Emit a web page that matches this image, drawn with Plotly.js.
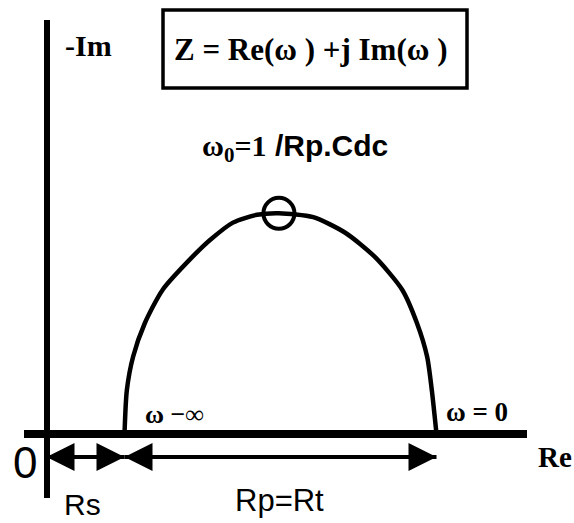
<!DOCTYPE html>
<html>
<head>
<meta charset="utf-8">
<script src="https://cdn.plot.ly/plotly-3.0.1.min.js"></script>
<style>html,body{margin:0;padding:0;background:#fff;}</style>
</head>
<body>
<div id="chart" style="width:574px;height:523px;"></div>
<script>
// ---- data (Re and -Im in units where Rs = 1) ----
const curveRe = [1.00, 1.03, 1.11, 1.26, 1.49, 1.87, 2.10, 2.39, 2.70, 2.98, 3.42, 3.83, 4.21, 4.56, 4.75, 4.88, 4.94, 5.00];
const curveIm = [0.00, 0.56, 0.99, 1.42, 1.85, 2.27, 2.49, 2.71, 2.81, 2.83, 2.78, 2.58, 2.27, 1.85, 1.42, 0.99, 0.56, 0.00];
const omega0Re = [2.98];
const omega0Im = [2.83];
const Rs = 1;
const Rp = 4;
const axisLabels = ['-Im', 'Re', '0'];
const resistanceLabels = ['Rs', 'Rp=Rt'];
const freqLabels = ['ω −∞', 'ω = 0'];
const formulaText = 'Z = Re(ω ) +j Im(ω )';

// ---- layout constants ----
const dimY = -0.295;       // height of the dimension arrows
const W = 574, H = 523;
const mL = 24, mR = 47, mT = 20, mB = 25;
const pw = W - mL - mR, ph = H - mT - mB;
const px = v => (v - mL) / pw;          // pixel -> paper x
const py = v => (H - mB - v) / ph;      // pixel -> paper y

const serif = 'Liberation Serif, Times New Roman, serif';
const sans = 'Liberation Sans, Arial, sans-serif';

const traces = [
  { // impedance arc
    x: curveRe, y: curveIm, mode: 'lines', type: 'scatter',
    line: {color: '#000', width: 4.5, shape: 'spline', smoothing: 0.7},
    hoverinfo: 'skip', showlegend: false
  },
  { // omega0 point
    x: omega0Re, y: omega0Im, mode: 'markers', type: 'scatter',
    marker: {symbol: 'circle-open', size: 31, color: '#000', line: {width: 4, color: '#000'}},
    hoverinfo: 'skip', showlegend: false
  },
  { // Rs dimension line
    x: [0, Rs], y: [dimY, dimY], mode: 'lines+markers', type: 'scatter',
    line: {color: '#000', width: 4},
    marker: {symbol: ['arrow-left', 'arrow-right'], size: 28, color: '#000', line: {width: 0}},
    hoverinfo: 'skip', showlegend: false
  },
  { // Rp dimension line
    x: [Rs, Rs + Rp], y: [dimY, dimY], mode: 'lines+markers', type: 'scatter',
    line: {color: '#000', width: 4},
    marker: {symbol: ['arrow-left', 'arrow-right'], size: 28, color: '#000', line: {width: 0}},
    hoverinfo: 'skip', showlegend: false
  }
];

const ann = (text, x, y, font, extra) => Object.assign({
  text: text, xref: 'paper', yref: 'paper', x: x, y: y,
  xanchor: 'center', yanchor: 'middle', showarrow: false, font: font
}, extra || {});

const layout = {
  width: W, height: H,
  margin: {l: mL, r: mR, t: mT, b: mB, pad: 0},
  paper_bgcolor: '#fff', plot_bgcolor: '#fff',
  showlegend: false,
  xaxis: {
    range: [(mL - 46.5) / 78, (W - mR - 46.5) / 78],
    showgrid: false, showticklabels: false, ticks: '', showline: false,
    zeroline: true, zerolinecolor: '#000', zerolinewidth: 6, fixedrange: true
  },
  yaxis: {
    range: [(434 - (H - mB)) / 78, (434 - mT) / 78],
    showgrid: false, showticklabels: false, ticks: '', showline: false,
    zeroline: true, zerolinecolor: '#000', zerolinewidth: 8, fixedrange: true
  },
  shapes: [
    {type: 'rect', xref: 'paper', yref: 'paper',
     x0: px(163), x1: px(467), y0: py(88), y1: py(10),
     line: {color: '#000', width: 3.5}, fillcolor: 'rgba(0,0,0,0)'}
  ],
  annotations: [
    ann(axisLabels[0], px(88), py(46), {family: serif, size: 30, color: '#000', weight: 'bold'}),
    ann(formulaText, px(310), py(49), {family: serif, size: 31, color: '#000', weight: 'bold'}),
    ann('<span style="font-family:Liberation Serif">ω<sub>0</sub>=1</span> /Rp.Cdc', px(295), py(148),
        {family: sans, size: 30, color: '#000', weight: 'bold'}),
    ann(freqLabels[0], px(174), py(414), {family: serif, size: 26, color: '#000', weight: 'bold'}),
    ann(freqLabels[1], px(477), py(412), {family: serif, size: 27, color: '#000', weight: 'bold'}),
    ann(axisLabels[1], px(536), py(457), {family: serif, size: 29, color: '#000', weight: 'bold'}, {xanchor: 'left'}),
    ann(axisLabels[2], px(25), py(462), {family: sans, size: 44, color: '#000'}),
    ann(resistanceLabels[0], px(82), py(504), {family: sans, size: 30, color: '#000'}),
    ann(resistanceLabels[1], px(279), py(500), {family: sans, size: 31, color: '#000'})
  ]
};

Plotly.newPlot('chart', traces, layout, {staticPlot: true, displayModeBar: false});
</script>
</body>
</html>
